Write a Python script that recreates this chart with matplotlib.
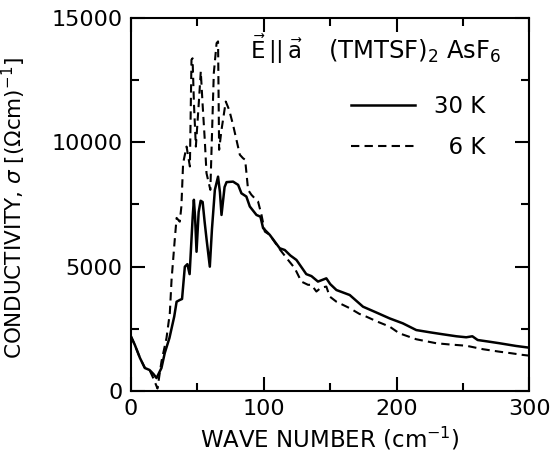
import matplotlib.pyplot as plt
from matplotlib.ticker import MultipleLocator

# 30 K (solid) conductivity spectrum
wave_30k = [0, 3, 6.8, 10.5, 14, 17, 19.3, 23, 25.5, 29, 32.6, 34.4, 36.8, 38.5,
            40.6, 42.5, 44.2, 46.5, 47.4, 48.3, 49.4, 51, 52.5, 54, 55.5, 57,
            59.4, 61, 63.2, 65.6, 67, 68.2, 70.5, 72, 76.9, 80.7, 83.2, 86.9,
            89.5, 94.5, 97.5, 99.5, 104.5, 112, 115.8, 120, 124.6, 132, 135.9,
            140.8, 147.1, 150, 154.7, 164.7, 174.7, 185, 194.7, 204.7, 214.8,
            225, 234.8, 245, 252.4, 257, 261, 270, 277.4, 290, 300]
sigma_30k = [2200, 1850, 1330, 925, 845, 680, 520, 925, 1530, 2130, 2990, 3590,
             3660, 3700, 5000, 5100, 4700, 7000, 7690, 7000, 5600, 7200, 7650,
             7600, 6800, 6080, 5000, 6500, 8090, 8620, 8000, 7080, 8200, 8400,
             8420, 8290, 7950, 7820, 7420, 7080, 7010, 6550, 6280, 5740, 5670,
             5450, 5270, 4700, 4620, 4400, 4530, 4300, 4060, 3860, 3390, 3150,
             2920, 2720, 2450, 2360, 2280, 2200, 2160, 2200, 2050, 1980, 1920,
             1810, 1740]

# 6 K (dashed) conductivity spectrum
wave_6k = [0, 3, 6.8, 10.5, 14, 17, 20, 23, 26.8, 29.3, 30.6, 33, 34.4, 36.8,
           38, 39.3, 41.9, 44.4, 45.6, 46.4, 47.5, 48.9, 51, 52.6, 54, 55.6,
           56.9, 59.8, 62.4, 64.5, 65.6, 66.4, 68.2, 71.4, 74, 76.9, 82, 84.4,
           86, 88.2, 90.7, 93.2, 95.7, 98.3, 100.8, 104.5, 112, 118.3, 123.3,
           128.3, 133.3, 135.9, 139.6, 143, 147.1, 149.6, 154.7, 164.7, 172,
           177.2, 185, 194.7, 202, 214.8, 229.8, 240, 252.4, 265, 277.4, 286,
           295, 300]
sigma_6k = [2200, 1850, 1330, 925, 845, 500, 100, 1180, 2130, 3130, 4470, 6080,
            6960, 6810, 7420, 9160, 9830, 9030, 13320, 13380, 11500, 9830,
            11500, 12850, 11500, 10100, 8760, 8090, 12780, 13990, 14060, 9700,
            10500, 11640, 11300, 10700, 9500, 9360, 9300, 8090, 7890, 7750,
            7620, 7080, 6410, 6280, 5700, 5270, 4940, 4400, 4270, 4270, 4000,
            4150, 4200, 3800, 3590, 3330, 3100, 2990, 2800, 2590, 2320, 2080,
            1920, 1870, 1820, 1680, 1580, 1520, 1450, 1420]

x_ticks = [0, 100, 200, 300]
y_ticks = [0, 5000, 10000, 15000]

plt.rcParams['font.family'] = ['DejaVu Sans']

fig = plt.figure(figsize=(5.57, 4.55), dpi=100)
ax = fig.add_axes([0.235, 0.1407, 0.7156, 0.8197])

ax.plot(wave_30k, sigma_30k, color='black', lw=1.8, label='30 K')
ax.plot(wave_6k, sigma_6k, color='black', lw=1.5, dashes=(4, 2.5), label='\u20076 K')

ax.set_xlim(0, 300)
ax.set_ylim(0, 15000)
ax.set_xticks(x_ticks)
ax.set_yticks(y_ticks)
ax.xaxis.set_minor_locator(MultipleLocator(50))
ax.yaxis.set_minor_locator(MultipleLocator(2500))
ax.tick_params(which='both', direction='in', top=True, right=True, width=1.5,
               labelsize=16, pad=6)
ax.tick_params(which='major', length=10)
ax.tick_params(which='minor', length=6)
for spine in ax.spines.values():
    spine.set_linewidth(1.5)

ax.set_xlabel('WAVE NUMBER (cm$^{-1}$)', fontsize=16.5, labelpad=4)
ax.set_ylabel(r'CONDUCTIVITY, $\sigma$ [($\Omega$cm)$^{-1}$]', fontsize=15.5)
ax.yaxis.set_label_coords(-0.258, 0.49)

ax.text(0.30, 0.915, r'$\vec{\mathrm{E}}\,||\,\vec{\mathrm{a}}$', transform=ax.transAxes,
        fontsize=16.5, va='center', ha='left')
ax.text(0.494, 0.91, r'(TMTSF)$_2$ AsF$_6$', transform=ax.transAxes,
        fontsize=17.5, va='center', ha='left')

ax.legend(loc='upper right', bbox_to_anchor=(0.94, 0.85), frameon=False,
          fontsize=16.5, handlelength=2.8, handletextpad=0.8, labelspacing=0.8)

fig.savefig('out.png', dpi=100)
